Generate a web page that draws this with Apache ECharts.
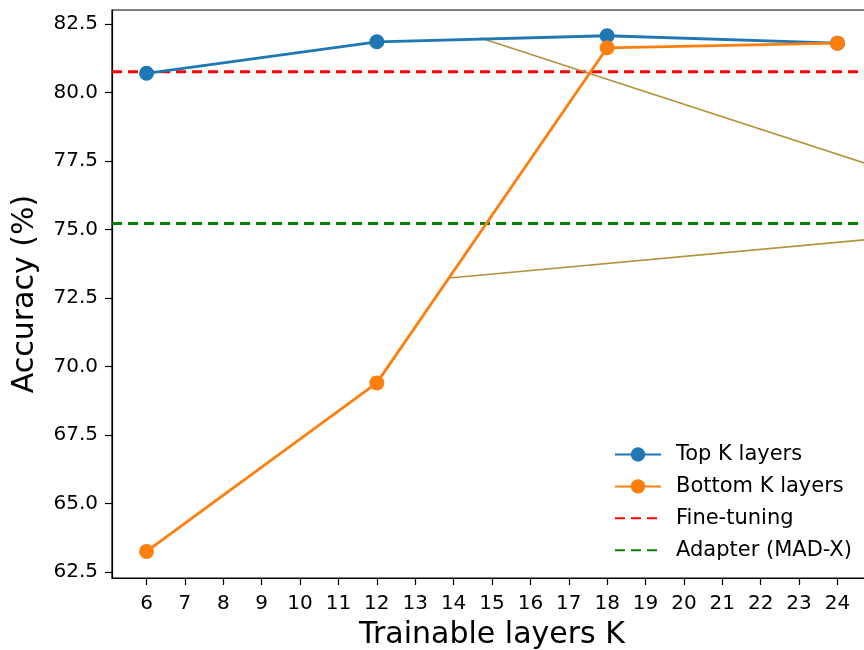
<!DOCTYPE html>
<html>
<head>
<meta charset="utf-8">
<script src="https://cdn.jsdelivr.net/npm/echarts@6/dist/echarts.min.js"></script>
<style>html,body{margin:0;padding:0;background:#fff;}#c{width:864px;height:650px;}</style>
</head>
<body>
<div id="c"></div>
<script>
const layers = [6, 12, 18, 24];
const topK = [80.70, 81.85, 82.07, 81.80];
const bottomK = [63.25, 69.40, 81.63, 81.80];
const fineTuning = 80.76;
const adapterMadX = 75.22;
const insetLine1 = [[14.70, 81.99], [24.70, 77.43]];
const insetLine2 = [[13.89, 73.23], [24.70, 74.62]];
const xTicks = [6,7,8,9,10,11,12,13,14,15,16,17,18,19,20,21,22,23,24];
const yTicks = [62.5, 65.0, 67.5, 70.0, 72.5, 75.0, 77.5, 80.0, 82.5];
const xMin = 5.1, xMax = 24.9, yMin = 62.28, yMax = 83.01;

const font = 'DejaVu Sans';
const chart = echarts.init(document.getElementById('c'), null, {renderer: 'canvas'});
const pairs = (xs, ys) => xs.map((x, i) => [x, ys[i]]);
const clear = 'rgba(0,0,0,0)';
chart.setOption({
  animation: false,
  backgroundColor: '#fff',
  textStyle: {fontFamily: font},
  grid: {left: 112, top: 10, width: 760, height: 568, show: true, borderColor: '#000', borderWidth: 1.2,
         backgroundColor: 'transparent', outerBoundsMode: 'none', containLabel: false},
  xAxis: {
    type: 'value', min: xMin, max: xMax,
    name: 'Trainable layers K', nameLocation: 'middle', nameGap: 42,
    nameTextStyle: {fontSize: 30, color: '#000', fontFamily: font},
    axisLine: {show: true, onZero: false, lineStyle: {color: '#000', width: 1.2}},
    axisTick: {show: true, length: 7, lineStyle: {color: '#000', width: 1.2}, customValues: xTicks},
    axisLabel: {fontSize: 20, color: '#000', margin: 16, fontFamily: font, customValues: xTicks, formatter: v => String(v)},
    splitLine: {show: false}
  },
  yAxis: {
    type: 'value', min: yMin, max: yMax,
    name: 'Accuracy (%)', nameLocation: 'middle', nameGap: 72, nameRotate: 90,
    nameTextStyle: {fontSize: 30, color: '#000', fontFamily: font},
    axisLine: {show: true, onZero: false, lineStyle: {color: '#000', width: 1.2}},
    axisTick: {show: true, length: 7, lineStyle: {color: '#000', width: 1.2}, customValues: yTicks},
    axisLabel: {fontSize: 20, color: '#000', margin: 14, fontFamily: font, customValues: yTicks, formatter: v => v.toFixed(1)},
    splitLine: {show: false}
  },
  legend: {
    orient: 'vertical', left: 614, top: 444, padding: 0,
    itemWidth: 46, itemHeight: 18, itemGap: 10.9,
    textStyle: {fontSize: 21, lineHeight: 18, color: '#000', fontFamily: font, padding: [0, 0, 0, 10]},
    data: ['Top K layers', 'Bottom K layers', 'Fine-tuning', 'Adapter (MAD-X)']
  },
  series: [
    {name: 'Fine-tuning', type: 'line', data: [[xMin, fineTuning], [xMax, fineTuning]], showSymbol: false, symbol: 'none', z: 1,
     lineStyle: {color: '#ff0000', width: 3, type: [10, 6]}, itemStyle: {color: clear, borderColor: clear}},
    {name: 'Adapter (MAD-X)', type: 'line', data: [[xMin, adapterMadX], [xMax, adapterMadX]], showSymbol: false, symbol: 'none', z: 1,
     lineStyle: {color: '#008000', width: 3, type: [10, 6]}, itemStyle: {color: clear, borderColor: clear}},
    {name: 'inset1', type: 'line', data: insetLine1, symbol: 'none', z: 1, silent: true,
     lineStyle: {color: '#b5903d', width: 1.6}},
    {name: 'inset2', type: 'line', data: insetLine2, symbol: 'none', z: 1, silent: true,
     lineStyle: {color: '#b5903d', width: 1.6}},
    {name: 'Top K layers', type: 'line', data: pairs(layers, topK), symbol: 'circle', symbolSize: 15, z: 3,
     lineStyle: {color: '#1f77b4', width: 2.8}, itemStyle: {color: '#1f77b4'}},
    {name: 'Bottom K layers', type: 'line', data: pairs(layers, bottomK), symbol: 'circle', symbolSize: 15, z: 4,
     lineStyle: {color: '#ff7f0e', width: 2.8}, itemStyle: {color: '#ff7f0e'}}
  ]
});
</script>
</body>
</html>
